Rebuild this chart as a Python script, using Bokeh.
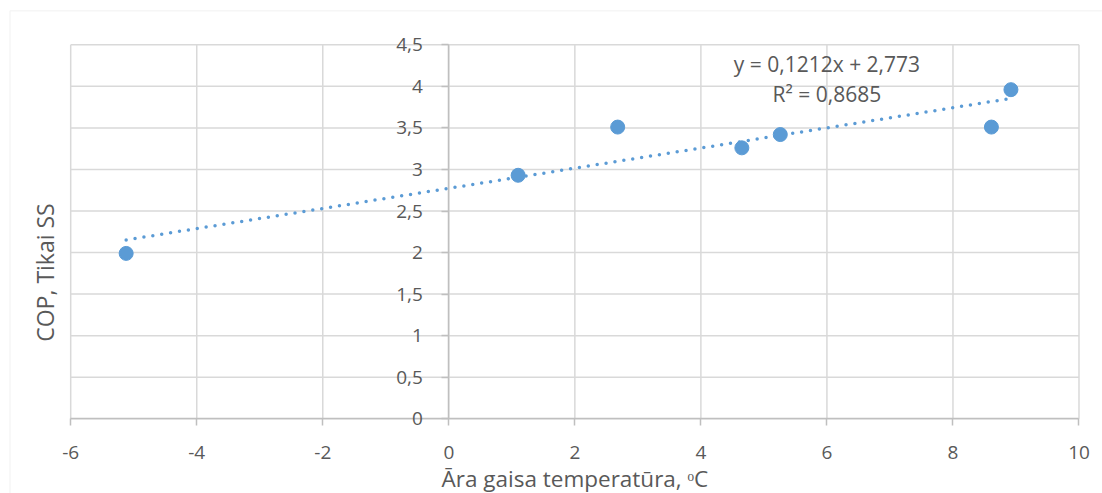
import numpy as np
from bokeh.plotting import figure
from bokeh.models import Range1d, LinearAxis, FixedTicker, Label, BoxAnnotation
from bokeh.embed import file_html
from bokeh.resources import INLINE

# ---- data ----
temperature = [-5.12, 1.10, 2.68, 4.65, 5.26, 8.61, 8.92]
cop = [1.99, 2.93, 3.51, 3.26, 3.42, 3.51, 3.96]
x_ticks = [-6, -4, -2, 0, 2, 4, 6, 8, 10]
x_tick_labels = ["-6", "-4", "-2", "0", "2", "4", "6", "8", "10"]
y_ticks = [0, 0.5, 1, 1.5, 2, 2.5, 3, 3.5, 4, 4.5]
y_tick_labels = ["0", "0,5", "1", "1,5", "2", "2,5", "3", "3,5", "4", "4,5"]
trend_slope = 0.1212
trend_intercept = 2.773
trend_r2 = 0.8685
x_title = "Āra gaisa temperatūra, ᵒC"
y_title = "COP, Tikai SS"

FONT = "Open Sans"
TEXT_COLOR = "#595959"
GRID_COLOR = "#d9d9d9"
AXIS_COLOR = "#bfbfbf"
BLUE = "#5b9bd5"

# ranges chosen so the plot frame fills the whole canvas
X_START, X_END = -7.114, 10.373
Y_START, Y_END = -0.899, 5.033

p = figure(width=1102, height=493,
           x_range=Range1d(X_START, X_END), y_range=Range1d(Y_START, Y_END),
           x_axis_type=None, y_axis_type=None,
           toolbar_location=None, output_backend="svg",
           min_border=0, min_border_left=0, min_border_right=0,
           min_border_top=0, min_border_bottom=0,
           outline_line_color=None,
           background_fill_color="white", border_fill_color="white")

# chart area border (top & left visible)
p.add_layout(BoxAnnotation(left=-6.963, right=X_END + 1, top=4.907, bottom=Y_START - 1,
                           fill_color=None, fill_alpha=0,
                           line_color=GRID_COLOR, line_width=1.2))

# gridlines
xmin, xmax = x_ticks[0], x_ticks[-1]
ymin, ymax = y_ticks[0], y_ticks[-1]
p.segment(x0=x_ticks, y0=[ymin] * len(x_ticks), x1=x_ticks, y1=[ymax] * len(x_ticks),
          line_color=GRID_COLOR, line_width=1.5, level="underlay")
p.segment(x0=[xmin] * len(y_ticks), y0=y_ticks, x1=[xmax] * len(y_ticks), y1=y_ticks,
          line_color=GRID_COLOR, line_width=1.5, level="underlay")

# axes crossing at zero
xaxis = LinearAxis(fixed_location=0, bounds=(xmin, xmax),
                   ticker=FixedTicker(ticks=x_ticks),
                   major_label_overrides={float(t): s for t, s in zip(x_ticks, x_tick_labels)})
yaxis = LinearAxis(fixed_location=0, bounds=(ymin, ymax),
                   ticker=FixedTicker(ticks=y_ticks),
                   major_label_overrides={float(t): s for t, s in zip(y_ticks, y_tick_labels)})
for ax in (xaxis, yaxis):
    ax.axis_line_color = AXIS_COLOR
    ax.axis_line_width = 1.5
    ax.major_tick_line_color = AXIS_COLOR
    ax.major_tick_line_width = 1.5
    ax.major_tick_in = 0
    ax.major_tick_out = 7
    ax.minor_tick_line_color = None
    ax.major_label_text_font = FONT
    ax.major_label_text_font_size = "19px"
    ax.major_label_text_color = TEXT_COLOR
xaxis.major_label_standoff = 20
yaxis.major_label_standoff = 19
p.add_layout(xaxis, "below")
p.add_layout(yaxis, "left")

# linear trendline (dotted)
tx = np.array([min(temperature), max(temperature)])
ty = trend_slope * tx + trend_intercept
p.line(tx, ty, line_color=BLUE, line_width=3.5, line_dash="0 9", line_cap="round")

# data points
p.scatter(temperature, cop, size=14, marker="circle",
          fill_color=BLUE, line_color=BLUE, line_width=1)

# trendline equation
eq_text = ("y = " + f"{trend_slope}".replace(".", ",") + "x + "
           + f"{trend_intercept}".replace(".", ","))
r2_text = "R² = " + f"{trend_r2}".replace(".", ",")
p.add_layout(Label(x=6.0, y=4.27, text=eq_text, text_align="center",
                   text_baseline="alphabetic", text_font=FONT,
                   text_font_size="21px", text_color=TEXT_COLOR))
p.add_layout(Label(x=6.0, y=3.91, text=r2_text, text_align="center",
                   text_baseline="alphabetic", text_font=FONT,
                   text_font_size="21px", text_color=TEXT_COLOR))

# axis titles
p.add_layout(Label(x=2.0, y=-0.715, text=x_title, text_align="center",
                   text_baseline="alphabetic", text_font=FONT,
                   text_font_size="22.5px", text_color=TEXT_COLOR))
p.add_layout(Label(x=-6.40, y=1.76, text=y_title, text_align="center",
                   text_baseline="middle", angle=np.pi / 2, text_font=FONT,
                   text_font_size="23px", text_color=TEXT_COLOR))

open("out.html", "w").write(file_html(p, INLINE))
